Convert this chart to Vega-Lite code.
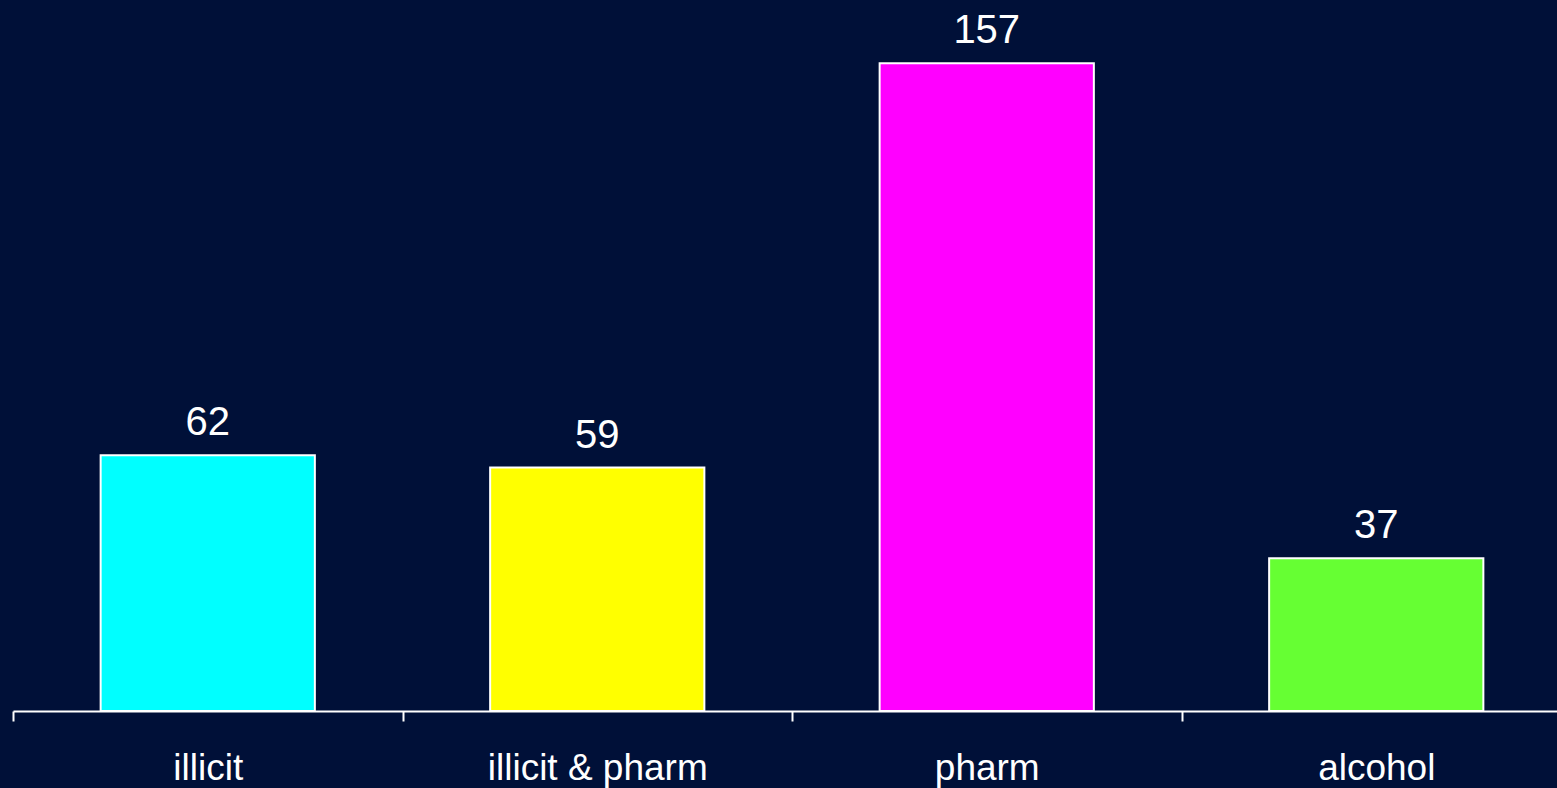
{
  "$schema": "https://vega.github.io/schema/vega-lite/v6.json",
  "autosize": "none",
  "width": 1544,
  "height": 711,
  "padding": {"left": 13, "top": 0, "right": 0, "bottom": 77},
  "background": "#001038",
  "config": {"view": {"stroke": null}, "font": "Liberation Sans"},
  "data": {"values": [
    {"category": "illicit", "count": 62},
    {"category": "illicit & pharm", "count": 59},
    {"category": "pharm", "count": 157},
    {"category": "alcohol", "count": 37}
  ]},
  "encoding": {
    "x": {"field": "category", "type": "nominal", "sort": null,
      "scale": {"range": [0, 1558], "paddingInner": 0, "paddingOuter": 0},
      "axis": {"title": null, "labelAngle": 0, "labelFontSize": 37, "labelColor": "#ffffff", "labelLimit": 0,
        "labelPadding": 29, "domainColor": "#ffffff", "domainWidth": 2, "tickColor": "#ffffff",
        "tickWidth": 2, "tickSize": 10, "tickBand": "extent", "labelFont": "Liberation Sans"}},
    "y": {"field": "count", "type": "quantitative", "scale": {"domain": [0, 172.3], "nice": false}, "axis": null}
  },
  "layer": [
    {"mark": {"type": "bar", "width": {"band": 0.55}, "stroke": "#ffffff", "strokeWidth": 2},
      "encoding": {"color": {"field": "category", "type": "nominal", "sort": null,
        "scale": {"domain": ["illicit", "illicit & pharm", "pharm", "alcohol"], "range": ["#00FFFF", "#FFFF00", "#FF00FF", "#66FF33"]}, "legend": null}}},
    {"mark": {"type": "text", "baseline": "alphabetic", "dy": -20, "fontSize": 40, "color": "#ffffff", "font": "Liberation Sans"},
      "encoding": {"text": {"field": "count", "type": "quantitative"}}}
  ]
}
